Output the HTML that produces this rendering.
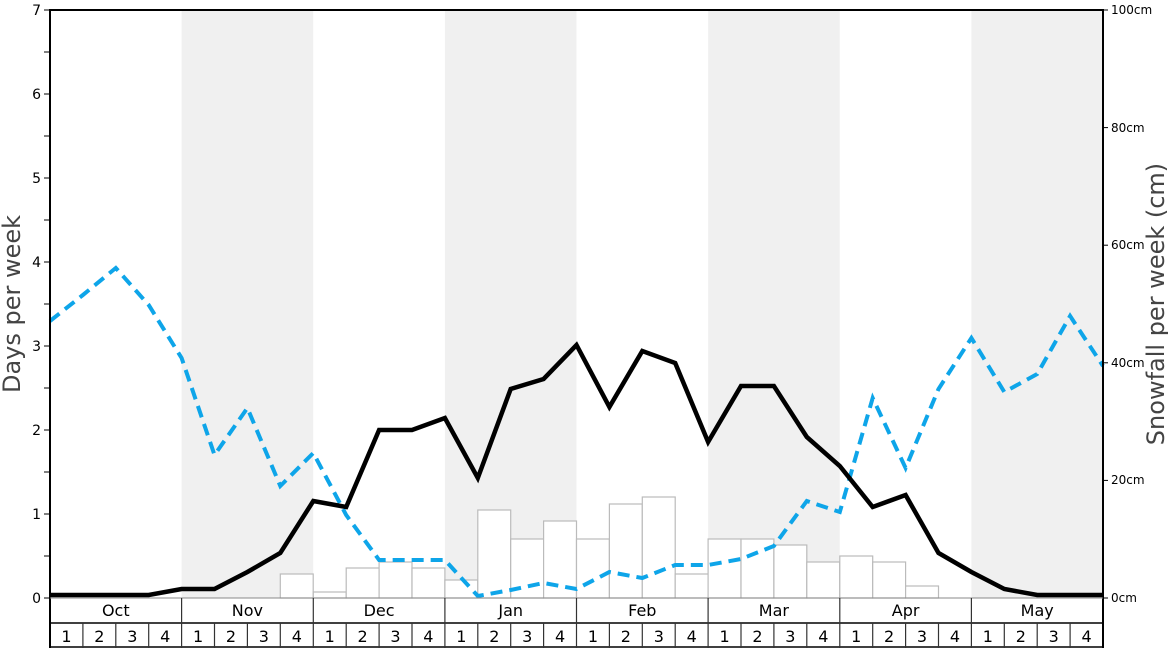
<!DOCTYPE html>
<html><head><meta charset="utf-8"><style>
html,body{margin:0;padding:0;background:#fff;}
svg{display:block;font-family:"DejaVu Sans","Liberation Sans",sans-serif;}
</style></head><body>
<svg width="1168" height="648" viewBox="0 0 1168 648" xmlns="http://www.w3.org/2000/svg">
<rect width="1168" height="648" fill="#fff"/>
<!-- shading -->
<g fill="#f0f0f0">
<rect x="181.6" y="10" width="131.6" height="588"/>
<rect x="444.9" y="10" width="131.6" height="588"/>
<rect x="708.1" y="10" width="131.6" height="588"/>
<rect x="971.4" y="10" width="131.6" height="588"/>
</g>
<!-- bars -->
<g fill="#fff" stroke="#bbb" stroke-width="1.2">
<rect x="280.3" y="574" width="32.9" height="24"/>
<rect x="313.3" y="592" width="32.9" height="6"/>
<rect x="346.2" y="568" width="32.9" height="30"/>
<rect x="379.1" y="562" width="32.9" height="36"/>
<rect x="412" y="568" width="32.9" height="30"/>
<rect x="444.9" y="580" width="32.9" height="18"/>
<rect x="477.8" y="510" width="32.9" height="88"/>
<rect x="510.7" y="539" width="32.9" height="59"/>
<rect x="543.6" y="521" width="32.9" height="77"/>
<rect x="576.5" y="539" width="32.9" height="59"/>
<rect x="609.4" y="504" width="32.9" height="94"/>
<rect x="642.3" y="497" width="32.9" height="101"/>
<rect x="675.2" y="574" width="32.9" height="24"/>
<rect x="708.1" y="539" width="32.9" height="59"/>
<rect x="741" y="539" width="32.9" height="59"/>
<rect x="773.9" y="545" width="32.9" height="53"/>
<rect x="806.8" y="562" width="32.9" height="36"/>
<rect x="839.8" y="556" width="32.9" height="42"/>
<rect x="872.7" y="562" width="32.9" height="36"/>
<rect x="905.6" y="586" width="32.9" height="12"/>
</g>
<!-- blue dashed -->
<polyline fill="none" stroke="#0ea5e9" stroke-width="4" stroke-dasharray="12,7" points="50,321 82.9,295 115.8,268 148.7,305 181.6,358 214.5,455 247.4,408 280.3,486 313.3,453 346.2,515 379.1,560 412,560 444.9,560 477.8,596 510.7,590 543.6,583 576.5,589 609.4,572 642.3,578 675.2,565 708.1,565 741,559 773.9,546 806.8,501 839.8,512 872.7,398 905.6,468 938.5,389 971.4,338 1004.3,392 1037.2,374 1070.1,316 1103,366"/>
<!-- black line -->
<polyline fill="none" stroke="#000" stroke-width="4.5" stroke-linejoin="miter" points="50,595 82.9,595 115.8,595 148.7,595 181.6,589 214.5,589 247.4,572 280.3,553 313.3,501 346.2,507 379.1,430 412,430 444.9,418 477.8,478 510.7,389 543.6,379 576.5,345 609.4,407 642.3,351 675.2,363 708.1,442 741,386 773.9,386 806.8,437 839.8,466 872.7,507 905.6,495 938.5,553 971.4,572 1004.3,589 1037.2,595 1070.1,595 1103,595"/>
<!-- axes -->
<g stroke="#000" stroke-width="2" fill="none">
<line x1="50" y1="10" x2="1103" y2="10"/>
<line x1="50" y1="9" x2="50" y2="648"/>
<line x1="1103" y1="9" x2="1103" y2="648"/>
</g>
<line x1="50" y1="598" x2="1103" y2="598" stroke="#888" stroke-width="1"/>
<!-- left ticks -->
<g stroke="#000" stroke-width="1">
<line x1="44" y1="10" x2="50" y2="10"/><line x1="44" y1="52" x2="50" y2="52"/>
<line x1="44" y1="94" x2="50" y2="94"/><line x1="44" y1="136" x2="50" y2="136"/>
<line x1="44" y1="178" x2="50" y2="178"/><line x1="44" y1="220" x2="50" y2="220"/>
<line x1="44" y1="262" x2="50" y2="262"/><line x1="44" y1="304" x2="50" y2="304"/>
<line x1="44" y1="346" x2="50" y2="346"/><line x1="44" y1="388" x2="50" y2="388"/>
<line x1="44" y1="430" x2="50" y2="430"/><line x1="44" y1="472" x2="50" y2="472"/>
<line x1="44" y1="514" x2="50" y2="514"/><line x1="44" y1="556" x2="50" y2="556"/>
<line x1="44" y1="598" x2="50" y2="598"/>
<line x1="1103" y1="10" x2="1108" y2="10"/><line x1="1103" y1="127.6" x2="1108" y2="127.6"/>
<line x1="1103" y1="245.2" x2="1108" y2="245.2"/><line x1="1103" y1="362.8" x2="1108" y2="362.8"/>
<line x1="1103" y1="480.4" x2="1108" y2="480.4"/><line x1="1103" y1="598" x2="1108" y2="598"/>
</g>
<g font-size="14" fill="#000" text-anchor="end">
<text x="41" y="15">7</text><text x="41" y="99">6</text><text x="41" y="183">5</text>
<text x="41" y="267">4</text><text x="41" y="351">3</text><text x="41" y="435">2</text>
<text x="41" y="519">1</text><text x="41" y="603">0</text>
</g>
<g font-size="12" fill="#000">
<text x="1111" y="14">100cm</text><text x="1111" y="132">80cm</text>
<text x="1111" y="249">60cm</text><text x="1111" y="367">40cm</text>
<text x="1111" y="484">20cm</text><text x="1111" y="602">0cm</text>
</g>
<text transform="translate(20,304) rotate(-90)" text-anchor="middle" font-size="24" fill="#444">Days per week</text>
<text transform="translate(1164,304) rotate(-90)" text-anchor="middle" font-size="24" fill="#444">Snowfall per week (cm)</text>
<!-- bottom table -->
<g stroke="#000" stroke-width="1.5">
<line x1="50" y1="623" x2="1103" y2="623"/>
<line x1="50" y1="647" x2="1103" y2="647"/>
</g>
<g stroke="#333" stroke-width="1.2">
<line x1="181.6" y1="598" x2="181.6" y2="648"/><line x1="313.3" y1="598" x2="313.3" y2="648"/>
<line x1="444.9" y1="598" x2="444.9" y2="648"/><line x1="576.5" y1="598" x2="576.5" y2="648"/>
<line x1="708.1" y1="598" x2="708.1" y2="648"/><line x1="839.8" y1="598" x2="839.8" y2="648"/>
<line x1="971.4" y1="598" x2="971.4" y2="648"/>
<line x1="82.9" y1="623" x2="82.9" y2="648"/><line x1="115.8" y1="623" x2="115.8" y2="648"/><line x1="148.7" y1="623" x2="148.7" y2="648"/>
<line x1="214.5" y1="623" x2="214.5" y2="648"/><line x1="247.4" y1="623" x2="247.4" y2="648"/><line x1="280.3" y1="623" x2="280.3" y2="648"/>
<line x1="346.2" y1="623" x2="346.2" y2="648"/><line x1="379.1" y1="623" x2="379.1" y2="648"/><line x1="412" y1="623" x2="412" y2="648"/>
<line x1="477.8" y1="623" x2="477.8" y2="648"/><line x1="510.7" y1="623" x2="510.7" y2="648"/><line x1="543.6" y1="623" x2="543.6" y2="648"/>
<line x1="609.4" y1="623" x2="609.4" y2="648"/><line x1="642.3" y1="623" x2="642.3" y2="648"/><line x1="675.2" y1="623" x2="675.2" y2="648"/>
<line x1="741" y1="623" x2="741" y2="648"/><line x1="773.9" y1="623" x2="773.9" y2="648"/><line x1="806.8" y1="623" x2="806.8" y2="648"/>
<line x1="872.7" y1="623" x2="872.7" y2="648"/><line x1="905.6" y1="623" x2="905.6" y2="648"/><line x1="938.5" y1="623" x2="938.5" y2="648"/>
<line x1="1004.3" y1="623" x2="1004.3" y2="648"/><line x1="1037.2" y1="623" x2="1037.2" y2="648"/><line x1="1070.1" y1="623" x2="1070.1" y2="648"/>
</g>
<g font-size="16" fill="#000" text-anchor="middle">
<text x="115.8" y="616">Oct</text><text x="247.4" y="616">Nov</text><text x="379.1" y="616">Dec</text>
<text x="510.7" y="616">Jan</text><text x="642.3" y="616">Feb</text><text x="773.9" y="616">Mar</text>
<text x="905.6" y="616">Apr</text><text x="1037.2" y="616">May</text>
</g>
<g font-size="16" fill="#000" text-anchor="middle">
<text x="66.5" y="642">1</text><text x="99.4" y="642">2</text><text x="132.3" y="642">3</text><text x="165.2" y="642">4</text>
<text x="198.1" y="642">1</text><text x="231" y="642">2</text><text x="263.9" y="642">3</text><text x="296.8" y="642">4</text>
<text x="329.7" y="642">1</text><text x="362.6" y="642">2</text><text x="395.5" y="642">3</text><text x="428.4" y="642">4</text>
<text x="461.4" y="642">1</text><text x="494.3" y="642">2</text><text x="527.2" y="642">3</text><text x="560.1" y="642">4</text>
<text x="593" y="642">1</text><text x="625.9" y="642">2</text><text x="658.8" y="642">3</text><text x="691.7" y="642">4</text>
<text x="724.6" y="642">1</text><text x="757.5" y="642">2</text><text x="790.4" y="642">3</text><text x="823.3" y="642">4</text>
<text x="856.2" y="642">1</text><text x="889.1" y="642">2</text><text x="922" y="642">3</text><text x="955" y="642">4</text>
<text x="987.9" y="642">1</text><text x="1020.8" y="642">2</text><text x="1053.7" y="642">3</text><text x="1086.6" y="642">4</text>
</g>
</svg>
</body></html>
